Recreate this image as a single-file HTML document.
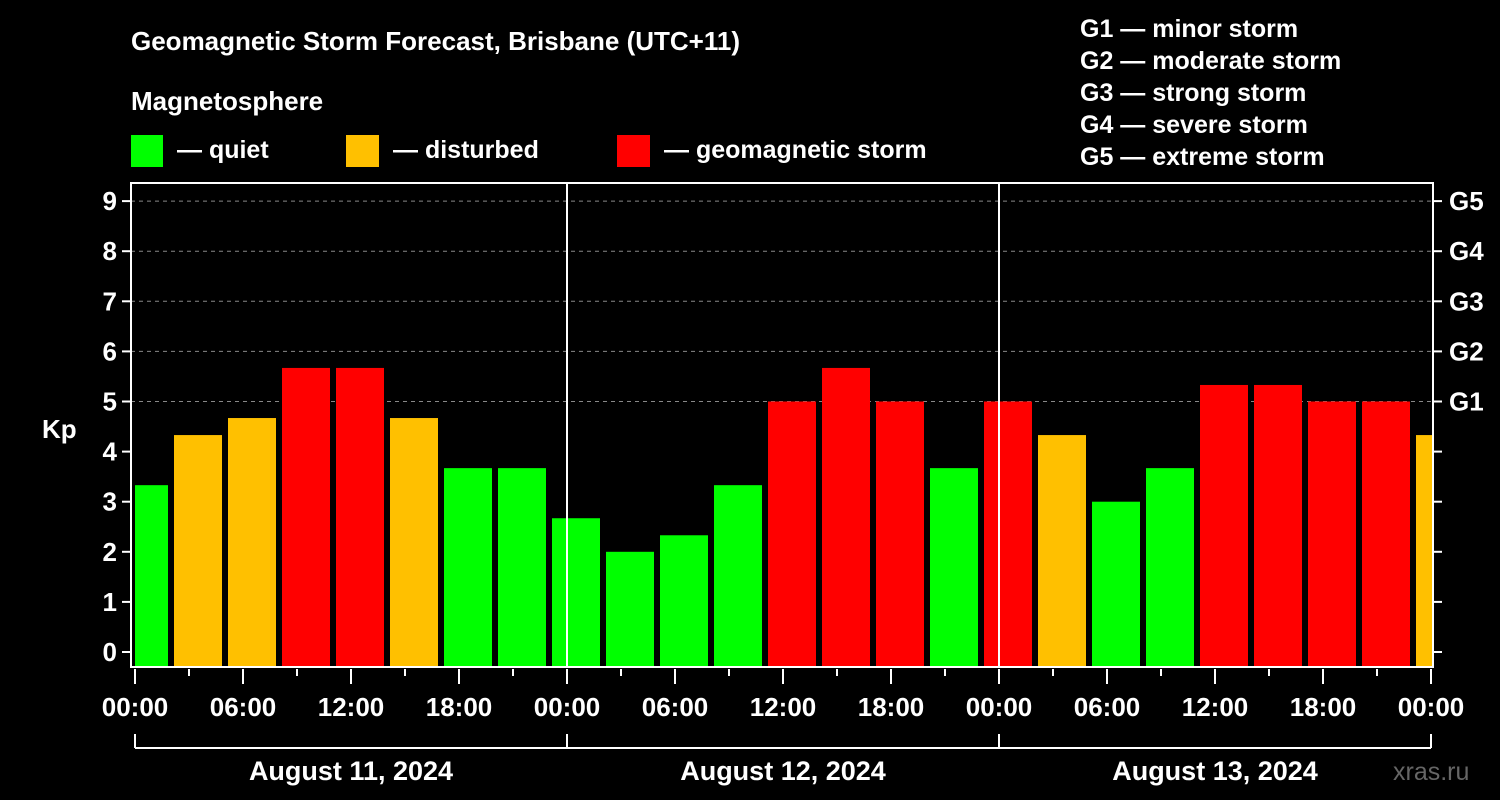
<!DOCTYPE html>
<html><head><meta charset="utf-8"><style>
body{margin:0;background:#000;}
svg{display:block;font-family:"Liberation Sans",Arial,sans-serif;font-weight:bold;}
</style></head><body>
<svg id="chart" width="1500" height="800" viewBox="0 0 1500 800">
<rect width="1500" height="800" fill="#000"/>
<text x="131" y="50" font-size="26" fill="#fff">Geomagnetic Storm Forecast, Brisbane (UTC+11)</text>
<text x="131" y="110" font-size="26" fill="#fff">Magnetosphere</text>
<g><rect x="131" y="135" width="32" height="32" fill="#00ff00"/><text x="177" y="158" font-size="25" fill="#fff">— quiet</text></g>
<g><rect x="346" y="135" width="33" height="32" fill="#ffc000"/><text x="393" y="158" font-size="25" fill="#fff">— disturbed</text></g>
<g><rect x="617" y="135" width="33" height="32" fill="#ff0000"/><text x="664" y="158" font-size="25" fill="#fff">— geomagnetic storm</text></g>
<g font-size="25" fill="#fff">
<text x="1080" y="37">G1 — minor storm</text>
<text x="1080" y="69">G2 — moderate storm</text>
<text x="1080" y="101">G3 — strong storm</text>
<text x="1080" y="133">G4 — severe storm</text>
<text x="1080" y="165">G5 — extreme storm</text>
</g>
<text x="42" y="438" font-size="26" fill="#fff">Kp</text>
<text x="1393" y="780" font-size="25" fill="#666" font-weight="normal">xras.ru</text>
<g id="grid"></g>
<g id="bars"></g>
<g id="axes"></g>
</svg>
<script>
const kpValues = [3.33,4.33,4.67,5.67,5.67,4.67,3.67,3.67,2.67,2,2.33,3.33,5,5.67,5,3.67,5,4.33,3,3.67,5.33,5.33,5,5,4.33];
const yTicks = [0,1,2,3,4,5,6,7,8,9];
const gLabels = ["G1","G2","G3","G4","G5"];
const xTickLabels = ["00:00","06:00","12:00","18:00","00:00","06:00","12:00","18:00","00:00","06:00","12:00","18:00","00:00"];
const dayLabels = ["August 11, 2024","August 12, 2024","August 13, 2024"];

const NS="http://www.w3.org/2000/svg";
const L=131,R=1433,T=183,B=667;
const x0=135,pxH=18;
const xS=h=>x0+h*pxH;
const yS=v=>652-v*50.1;
function mk(tag,attrs,parent,text){const e=document.createElementNS(NS,tag);for(const k in attrs)e.setAttribute(k,attrs[k]);if(text!==undefined)e.textContent=text;parent.appendChild(e);return e;}
const grid=document.getElementById('grid'),bars=document.getElementById('bars'),axes=document.getElementById('axes');
// clip
const defs=mk('defs',{},document.getElementById('chart'));
const cp=mk('clipPath',{id:'pc'},defs);mk('rect',{x:L+4,y:T,width:R-L-5,height:B-T},cp);
bars.setAttribute('clip-path','url(#pc)');
yTicks.forEach(v=>{
  if(v>=5){const g=mk('line',{x1:L,x2:R,y1:yS(v),y2:yS(v),stroke:'#888','stroke-dasharray':'4,4','stroke-width':1},grid);
  
  }
  mk('line',{x1:L-9,x2:L,y1:yS(v),y2:yS(v),stroke:'#fff','stroke-width':2},axes);
  mk('line',{x1:R,x2:R+9,y1:yS(v),y2:yS(v),stroke:'#fff','stroke-width':2},axes);
  const t=mk('text',{x:L-14,y:yS(v)+9,'font-size':26,fill:'#fff','text-anchor':'end'},axes,String(v));
  
  
});
gLabels.forEach((g,i)=>{const t=mk('text',{x:R+16,y:yS(5+i)+9,'font-size':26,fill:'#fff'},axes,g);
  
  });
kpValues.forEach((v,i)=>{
  const c=0.5+3*i;const col=v>=5?'#ff0000':(v>=4?'#ffc000':'#00ff00');
  const r=mk('rect',{x:xS(c)-24,y:yS(v),width:48,height:B-yS(v),fill:col},bars);
  
  
});
mk('rect',{x:L,y:T,width:R-L,height:B-T,fill:'none',stroke:'#fff','stroke-width':2},axes);
[1,2].forEach(d=>mk('line',{x1:xS(24*d),x2:xS(24*d),y1:T,y2:B,stroke:'#fff','stroke-width':2},axes));
for(let h=0;h<=72;h+=3){const major=h%6===0;mk('line',{x1:xS(h),x2:xS(h),y1:B+2,y2:B+(major?17:9),stroke:'#fff','stroke-width':2},axes);}
xTickLabels.forEach((s,i)=>{const t=mk('text',{x:xS(i*6),y:716,'font-size':26,fill:'#fff','text-anchor':'middle'},axes,s);
  
  });
mk('line',{x1:xS(0),x2:xS(72),y1:748,y2:748,stroke:'#fff','stroke-width':2},axes);
for(let d=0;d<=3;d++)mk('line',{x1:xS(24*d),x2:xS(24*d),y1:734,y2:748,stroke:'#fff','stroke-width':2},axes);
dayLabels.forEach((s,i)=>{const t=mk('text',{x:xS(24*i+12),y:780,'font-size':27,fill:'#fff','text-anchor':'middle'},axes,s);
  
  });
</script>
</body></html>
